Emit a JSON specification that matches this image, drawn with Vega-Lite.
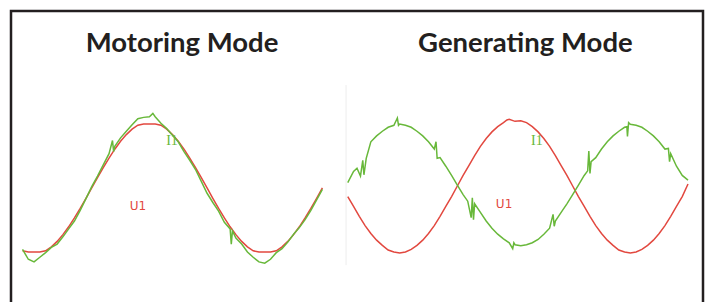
{
  "$schema": "https://vega.github.io/schema/vega-lite/v6.json",
  "width": 692,
  "height": 300,
  "autosize": "none",
  "padding": {"left": 11, "top": 11, "right": 5, "bottom": 0},
  "background": "white",
  "config": {"view": {"stroke": "#231f20", "strokeWidth": 2.5}},
  "datasets": {
    "u1": [
      {"panel":"M","t":1.0,"v":-0.951},{"panel":"M","t":1.5,"v":-0.97},{"panel":"M","t":2.0,"v":-0.97},{"panel":"M","t":2.5,"v":-0.97},{"panel":"M","t":3.0,"v":-0.951},{"panel":"M","t":3.5,"v":-0.891},{"panel":"M","t":4.0,"v":-0.809},{"panel":"M","t":4.5,"v":-0.707},{"panel":"M","t":5.0,"v":-0.588},{"panel":"M","t":5.5,"v":-0.454},{"panel":"M","t":6.0,"v":-0.309},{"panel":"M","t":6.5,"v":-0.156},{"panel":"M","t":7.0,"v":0.0},{"panel":"M","t":7.5,"v":0.156},{"panel":"M","t":8.0,"v":0.309},{"panel":"M","t":8.5,"v":0.454},{"panel":"M","t":9.0,"v":0.588},{"panel":"M","t":9.5,"v":0.707},{"panel":"M","t":10.0,"v":0.809},{"panel":"M","t":10.5,"v":0.891},{"panel":"M","t":11.0,"v":0.951},{"panel":"M","t":11.5,"v":0.97},{"panel":"M","t":12.0,"v":0.97},{"panel":"M","t":12.5,"v":0.97},{"panel":"M","t":13.0,"v":0.951},{"panel":"M","t":13.5,"v":0.891},{"panel":"M","t":14.0,"v":0.809},{"panel":"M","t":14.5,"v":0.707},{"panel":"M","t":15.0,"v":0.588},{"panel":"M","t":15.5,"v":0.454},{"panel":"M","t":16.0,"v":0.309},{"panel":"M","t":16.5,"v":0.156},{"panel":"M","t":17.0,"v":0.0},{"panel":"M","t":17.5,"v":-0.156},{"panel":"M","t":18.0,"v":-0.309},{"panel":"M","t":18.5,"v":-0.454},{"panel":"M","t":19.0,"v":-0.588},{"panel":"M","t":19.5,"v":-0.707},{"panel":"M","t":20.0,"v":-0.809},{"panel":"M","t":20.5,"v":-0.891},{"panel":"M","t":21.0,"v":-0.951},{"panel":"M","t":21.5,"v":-0.97},{"panel":"M","t":22.0,"v":-0.97},{"panel":"M","t":22.5,"v":-0.97},{"panel":"M","t":23.0,"v":-0.951},{"panel":"M","t":23.5,"v":-0.891},{"panel":"M","t":24.0,"v":-0.809},{"panel":"M","t":24.5,"v":-0.707},{"panel":"M","t":25.0,"v":-0.588},{"panel":"M","t":25.5,"v":-0.454},{"panel":"M","t":26.0,"v":-0.309},{"panel":"M","t":26.5,"v":-0.156},{"panel":"M","t":27.0,"v":0.0},
      {"panel":"G","t":29.2,"v":-0.13},{"panel":"G","t":29.7,"v":-0.28},{"panel":"G","t":30.2,"v":-0.43},{"panel":"G","t":30.7,"v":-0.57},{"panel":"G","t":31.2,"v":-0.69},{"panel":"G","t":31.7,"v":-0.79},{"panel":"G","t":32.2,"v":-0.87},{"panel":"G","t":32.7,"v":-0.94},{"panel":"G","t":33.2,"v":-0.97},{"panel":"G","t":33.7,"v":-0.985},{"panel":"G","t":34.2,"v":-0.97},{"panel":"G","t":34.7,"v":-0.93},{"panel":"G","t":35.2,"v":-0.87},{"panel":"G","t":35.7,"v":-0.79},{"panel":"G","t":36.2,"v":-0.69},{"panel":"G","t":36.7,"v":-0.57},{"panel":"G","t":37.2,"v":-0.43},{"panel":"G","t":37.7,"v":-0.28},{"panel":"G","t":38.2,"v":-0.13},{"panel":"G","t":38.7,"v":0.03},{"panel":"G","t":39.2,"v":0.19},{"panel":"G","t":39.7,"v":0.34},{"panel":"G","t":40.2,"v":0.49},{"panel":"G","t":40.7,"v":0.63},{"panel":"G","t":41.2,"v":0.75},{"panel":"G","t":41.7,"v":0.85},{"panel":"G","t":42.2,"v":0.93},{"panel":"G","t":42.7,"v":0.99},{"panel":"G","t":43.0,"v":1.03},{"panel":"G","t":43.2,"v":1.04},{"panel":"G","t":43.7,"v":1.01},{"panel":"G","t":44.2,"v":1.02},{"panel":"G","t":44.7,"v":0.99},{"panel":"G","t":45.2,"v":0.93},{"panel":"G","t":45.7,"v":0.85},{"panel":"G","t":46.2,"v":0.75},{"panel":"G","t":46.7,"v":0.63},{"panel":"G","t":47.2,"v":0.49},{"panel":"G","t":47.7,"v":0.34},{"panel":"G","t":48.2,"v":0.19},{"panel":"G","t":48.7,"v":0.03},{"panel":"G","t":49.2,"v":-0.13},{"panel":"G","t":49.7,"v":-0.28},{"panel":"G","t":50.2,"v":-0.43},{"panel":"G","t":50.7,"v":-0.57},{"panel":"G","t":51.2,"v":-0.69},{"panel":"G","t":51.7,"v":-0.79},{"panel":"G","t":52.2,"v":-0.87},{"panel":"G","t":52.7,"v":-0.94},{"panel":"G","t":53.2,"v":-0.97},{"panel":"G","t":53.7,"v":-0.985},{"panel":"G","t":54.2,"v":-0.97},{"panel":"G","t":54.7,"v":-0.93},{"panel":"G","t":55.2,"v":-0.87},{"panel":"G","t":55.7,"v":-0.79},{"panel":"G","t":56.2,"v":-0.69},{"panel":"G","t":56.7,"v":-0.57},{"panel":"G","t":57.2,"v":-0.43},{"panel":"G","t":57.7,"v":-0.28},{"panel":"G","t":58.2,"v":-0.13},{"panel":"G","t":58.7,"v":0.06}
    ],
    "i1": [
      {"panel":"M","t":1.0,"v":-0.93},{"panel":"M","t":1.5,"v":-1.08},{"panel":"M","t":2.0,"v":-1.12},{"panel":"M","t":2.5,"v":-1.05},{"panel":"M","t":3.0,"v":-0.98},{"panel":"M","t":3.5,"v":-0.9},{"panel":"M","t":4.0,"v":-0.85},{"panel":"M","t":4.5,"v":-0.74},{"panel":"M","t":5.0,"v":-0.62},{"panel":"M","t":5.5,"v":-0.5},{"panel":"M","t":6.0,"v":-0.34},{"panel":"M","t":6.5,"v":-0.16},{"panel":"M","t":7.0,"v":0.02},{"panel":"M","t":7.5,"v":0.18},{"panel":"M","t":8.0,"v":0.35},{"panel":"M","t":8.5,"v":0.52},{"panel":"M","t":8.8,"v":0.72},{"panel":"M","t":8.9,"v":0.55},{"panel":"M","t":9.0,"v":0.63},{"panel":"M","t":9.5,"v":0.76},{"panel":"M","t":10.0,"v":0.86},{"panel":"M","t":10.5,"v":0.96},{"panel":"M","t":11.0,"v":1.05},{"panel":"M","t":11.5,"v":1.07},{"panel":"M","t":12.0,"v":1.08},{"panel":"M","t":12.3,"v":1.13},{"panel":"M","t":12.5,"v":1.08},{"panel":"M","t":13.0,"v":0.98},{"panel":"M","t":13.5,"v":0.9},{"panel":"M","t":14.0,"v":0.8},{"panel":"M","t":14.5,"v":0.7},{"panel":"M","t":15.0,"v":0.55},{"panel":"M","t":15.5,"v":0.42},{"panel":"M","t":16.0,"v":0.28},{"panel":"M","t":16.5,"v":0.1},{"panel":"M","t":17.0,"v":-0.08},{"panel":"M","t":17.5,"v":-0.22},{"panel":"M","t":18.0,"v":-0.35},{"panel":"M","t":18.5,"v":-0.52},{"panel":"M","t":19.0,"v":-0.62},{"panel":"M","t":19.1,"v":-0.85},{"panel":"M","t":19.2,"v":-0.65},{"panel":"M","t":19.5,"v":-0.76},{"panel":"M","t":20.0,"v":-0.85},{"panel":"M","t":20.5,"v":-0.97},{"panel":"M","t":21.0,"v":-1.05},{"panel":"M","t":21.5,"v":-1.12},{"panel":"M","t":22.0,"v":-1.14},{"panel":"M","t":22.5,"v":-1.08},{"panel":"M","t":23.0,"v":-0.98},{"panel":"M","t":23.5,"v":-0.92},{"panel":"M","t":24.0,"v":-0.82},{"panel":"M","t":24.5,"v":-0.7},{"panel":"M","t":25.0,"v":-0.6},{"panel":"M","t":25.5,"v":-0.48},{"panel":"M","t":26.0,"v":-0.34},{"panel":"M","t":26.5,"v":-0.18},{"panel":"M","t":27.0,"v":-0.02},
      {"panel":"G","t":29.2,"v":0.08},{"panel":"G","t":29.7,"v":0.25},{"panel":"G","t":30.0,"v":0.3},{"panel":"G","t":30.3,"v":0.18},{"panel":"G","t":30.5,"v":0.42},{"panel":"G","t":30.6,"v":0.2},{"panel":"G","t":30.8,"v":0.45},{"panel":"G","t":31.2,"v":0.7},{"panel":"G","t":31.7,"v":0.79},{"panel":"G","t":32.2,"v":0.86},{"panel":"G","t":32.7,"v":0.92},{"panel":"G","t":33.2,"v":0.95},{"panel":"G","t":33.5,"v":1.06},{"panel":"G","t":33.6,"v":0.95},{"panel":"G","t":33.7,"v":0.97},{"panel":"G","t":34.2,"v":0.95},{"panel":"G","t":34.7,"v":0.92},{"panel":"G","t":35.2,"v":0.86},{"panel":"G","t":35.7,"v":0.79},{"panel":"G","t":36.2,"v":0.7},{"panel":"G","t":36.7,"v":0.59},{"panel":"G","t":36.85,"v":0.7},{"panel":"G","t":36.95,"v":0.45},{"panel":"G","t":37.2,"v":0.46},{"panel":"G","t":37.7,"v":0.33},{"panel":"G","t":38.2,"v":0.19},{"panel":"G","t":38.7,"v":0.045},{"panel":"G","t":39.2,"v":-0.1},{"panel":"G","t":39.6,"v":-0.2},{"panel":"G","t":39.9,"v":-0.45},{"panel":"G","t":40.0,"v":-0.15},{"panel":"G","t":40.1,"v":-0.48},{"panel":"G","t":40.2,"v":-0.24},{"panel":"G","t":40.7,"v":-0.37},{"panel":"G","t":41.2,"v":-0.5},{"panel":"G","t":41.7,"v":-0.61},{"panel":"G","t":42.2,"v":-0.7},{"panel":"G","t":42.7,"v":-0.77},{"panel":"G","t":43.2,"v":-0.83},{"panel":"G","t":43.5,"v":-0.92},{"panel":"G","t":43.6,"v":-0.83},{"panel":"G","t":43.7,"v":-0.86},{"panel":"G","t":44.2,"v":-0.875},{"panel":"G","t":44.7,"v":-0.86},{"panel":"G","t":45.2,"v":-0.83},{"panel":"G","t":45.7,"v":-0.78},{"panel":"G","t":46.2,"v":-0.7},{"panel":"G","t":46.7,"v":-0.61},{"panel":"G","t":47.0,"v":-0.4},{"panel":"G","t":47.1,"v":-0.58},{"panel":"G","t":47.2,"v":-0.5},{"panel":"G","t":47.7,"v":-0.37},{"panel":"G","t":48.2,"v":-0.24},{"panel":"G","t":48.7,"v":-0.1},{"panel":"G","t":49.2,"v":0.045},{"panel":"G","t":49.7,"v":0.19},{"panel":"G","t":50.0,"v":0.26},{"panel":"G","t":50.1,"v":0.56},{"panel":"G","t":50.2,"v":0.22},{"panel":"G","t":50.3,"v":0.4},{"panel":"G","t":50.7,"v":0.46},{"panel":"G","t":51.2,"v":0.59},{"panel":"G","t":51.7,"v":0.7},{"panel":"G","t":52.2,"v":0.79},{"panel":"G","t":52.7,"v":0.86},{"panel":"G","t":53.2,"v":0.92},{"panel":"G","t":53.4,"v":0.93},{"panel":"G","t":53.45,"v":0.78},{"panel":"G","t":53.55,"v":0.99},{"panel":"G","t":53.7,"v":0.965},{"panel":"G","t":54.2,"v":0.95},{"panel":"G","t":54.7,"v":0.92},{"panel":"G","t":55.2,"v":0.86},{"panel":"G","t":55.7,"v":0.79},{"panel":"G","t":56.2,"v":0.7},{"panel":"G","t":56.7,"v":0.59},{"panel":"G","t":57.0,"v":0.6},{"panel":"G","t":57.1,"v":0.4},{"panel":"G","t":57.2,"v":0.52},{"panel":"G","t":57.7,"v":0.33},{"panel":"G","t":58.2,"v":0.19},{"panel":"G","t":58.7,"v":0.12}
    ],
    "titles": [
      {"text": "Motoring Mode", "t": 14.83, "v": 2.06},
      {"text": "Generating Mode", "t": 44.6, "v": 2.06}
    ],
    "ulabels": [
      {"text": "U1", "t": 11.0, "v": -0.33},
      {"text": "U1", "t": 42.75, "v": -0.3}
    ],
    "ilabels": [
      {"text": "I1", "t": 13.96, "v": 0.65},
      {"text": "I1", "t": 45.6, "v": 0.65}
    ],
    "sep": [
      {"t": 29.05, "v1": 1.56, "v2": -1.17}
    ]
  },
  "layer": [
    {
      "data": {"name": "sep"},
      "mark": {"type": "rule", "color": "#ededed", "strokeWidth": 1},
      "encoding": {
        "x": {"field": "t", "type": "quantitative", "scale": {"domain": [0, 60], "nice": false, "zero": false}, "axis": null},
        "y": {"field": "v1", "type": "quantitative", "scale": {"domain": [-1.864, 2.682], "nice": false, "zero": false}, "axis": null},
        "y2": {"field": "v2"}
      }
    },
    {
      "data": {"name": "u1"},
      "mark": {"type": "line", "color": "#e2483f", "strokeWidth": 1.5},
      "encoding": {
        "x": {"field": "t", "type": "quantitative", "axis": null},
        "y": {"field": "v", "type": "quantitative", "axis": null},
        "detail": {"field": "panel"}
      }
    },
    {
      "data": {"name": "i1"},
      "mark": {"type": "line", "color": "#68b83a", "strokeWidth": 1.5},
      "encoding": {
        "x": {"field": "t", "type": "quantitative", "axis": null},
        "y": {"field": "v", "type": "quantitative", "axis": null},
        "detail": {"field": "panel"}
      }
    },
    {
      "data": {"name": "titles"},
      "mark": {"type": "text", "font": "Lato", "fontWeight": "bold", "fontSize": 27.5, "color": "#231f20", "align": "center", "baseline": "alphabetic"},
      "encoding": {
        "x": {"field": "t", "type": "quantitative"},
        "y": {"field": "v", "type": "quantitative"},
        "text": {"field": "text"}
      }
    },
    {
      "data": {"name": "ulabels"},
      "mark": {"type": "text", "font": "DejaVu Sans", "fontSize": 12, "color": "#e2483f", "align": "center", "baseline": "alphabetic"},
      "encoding": {
        "x": {"field": "t", "type": "quantitative"},
        "y": {"field": "v", "type": "quantitative"},
        "text": {"field": "text"}
      }
    },
    {
      "data": {"name": "ilabels"},
      "mark": {"type": "text", "font": "Liberation Serif", "fontSize": 14, "color": "#68b83a", "align": "center", "baseline": "alphabetic"},
      "encoding": {
        "x": {"field": "t", "type": "quantitative"},
        "y": {"field": "v", "type": "quantitative"},
        "text": {"field": "text"}
      }
    }
  ]
}
